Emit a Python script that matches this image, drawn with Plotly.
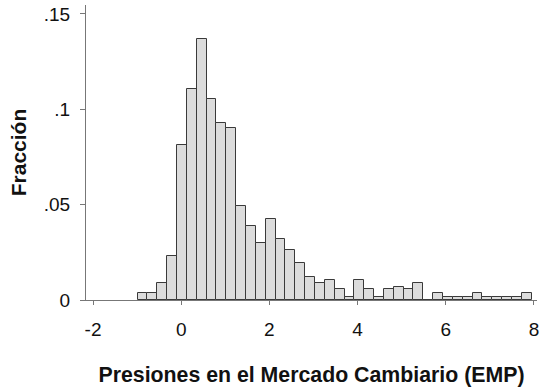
import plotly.graph_objects as go

# Histogram bins (Stata-style: 40 bins starting at min)
bin_start = -0.99
bin_width = 0.2235
fractions = [0.0035, 0.0035, 0.0091, 0.0232, 0.0811, 0.1108, 0.1367, 0.1054,
             0.0930, 0.0900, 0.0491, 0.0388, 0.0301, 0.0425, 0.0320, 0.0264,
             0.0196, 0.0122, 0.0091, 0.0105, 0.0056, 0.0017, 0.0105, 0.0056,
             0.0017, 0.0056, 0.0070, 0.0056, 0.0091, 0.0, 0.0038, 0.0017,
             0.0017, 0.0017, 0.0038, 0.0017, 0.0017, 0.0017, 0.0017, 0.0038]
x_ticks = [-2, 0, 2, 4, 6, 8]
y_ticks = [0, 0.05, 0.1, 0.15]
y_ticktext = ["0", ".05", ".1", ".15"]

centers = [bin_start + (i + 0.5) * bin_width for i in range(len(fractions))]

fig = go.Figure(go.Bar(
    x=centers, y=fractions, width=bin_width,
    marker=dict(color="#dcdcdc", line=dict(color="#3a3a3a", width=1)),
))

font = "Liberation Sans, Arial, sans-serif"
fig.update_layout(
    width=541, height=391,
    margin=dict(l=86, r=4, t=5, b=91),
    paper_bgcolor="white", plot_bgcolor="white",
    showlegend=False, bargap=0,
    font=dict(family=font, size=19, color="#111111"),
)
fig.update_xaxes(
    range=[-2.16, 8.07], tickvals=x_ticks, ticktext=[str(v) for v in x_ticks],
    showline=True, linecolor="#777777", linewidth=1, mirror=False,
    ticks="outside", ticklen=4, tickcolor="#777777", tickwidth=1,
    showgrid=False, zeroline=False, ticklabelstandoff=8, automargin=False,
    title=dict(text="<b>Presiones en el Mercado Cambiario (EMP)</b>",
               font=dict(size=21.3, family=font, color="#111111"), standoff=28),
)
fig.update_yaxes(
    range=[0, 0.1547], tickvals=y_ticks, ticktext=y_ticktext,
    showline=True, linecolor="#777777", linewidth=1,
    ticks="outside", ticklen=5, tickcolor="#777777", tickwidth=1,
    showgrid=False, zeroline=False, ticklabelstandoff=6, automargin=False,
    title=dict(text="<b>Fracción</b>",
               font=dict(size=21, family=font, color="#111111"), standoff=11),
)
fig.write_html("out.html", config={"displayModeBar": False},
               post_script="document.body.style.margin='0';document.body.style.overflow='hidden';")
